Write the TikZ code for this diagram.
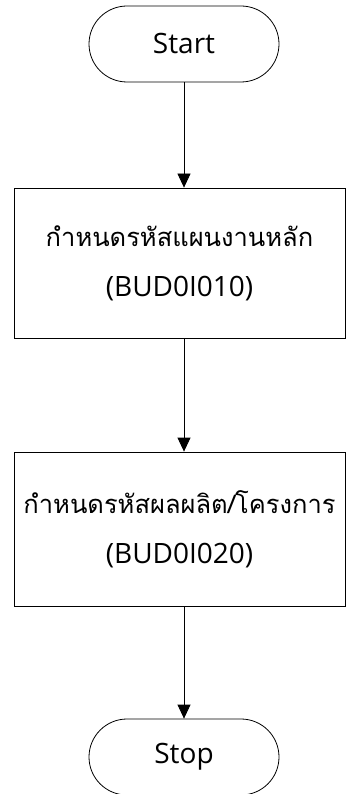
\documentclass[tikz,border=0pt]{standalone}
\usepackage{fontspec}
\setmainfont{Open Sans}
\newfontfamily\thaifont[Script=Thai]{Loma}
\newcommand{\thaitext}[1]{{\thaifont\fontsize{25.5}{50}\selectfont #1}}
\usetikzlibrary{shapes.misc,arrows.meta}
\tikzset{
  term/.style={draw=black,line width=0.8pt,rounded rectangle,minimum width=190pt,minimum height=76pt,inner sep=0pt,font=\fontsize{28}{34}\selectfont},
  proc/.style={draw=black,line width=0.8pt,rectangle,text width=331pt,inner sep=0pt,align=center,font=\fontsize{28}{50}\selectfont},
  flow/.style={line width=0.8pt,-{Triangle[length=14pt,width=13pt]}}
}
\begin{document}
\begin{tikzpicture}[x=1pt,y=-1pt]
\useasboundingbox (0,0) rectangle (346,794);
\node[term] (start) at (184,44) {Start};
\node[proc,minimum height=150pt] (b1) at (179.5,263) {\thaitext{กำหนดรหัสแผนงานหลัก}\\(BUD0I010)};
\node[proc,minimum height=154pt] (b2) at (179.5,529) {\thaitext{กำหนดรหัสผลผลิต/โครงการ}\\(BUD0I020)};
\node[term] (stop) at (184,757) {Stop};
\draw[flow] (start.south) -- (start.south |- b1.north);
\draw[flow] (start.south |- b1.south) -- (start.south |- b2.north);
\draw[flow] (start.south |- b2.south) -- (stop.north);
\end{tikzpicture}
\end{document}
